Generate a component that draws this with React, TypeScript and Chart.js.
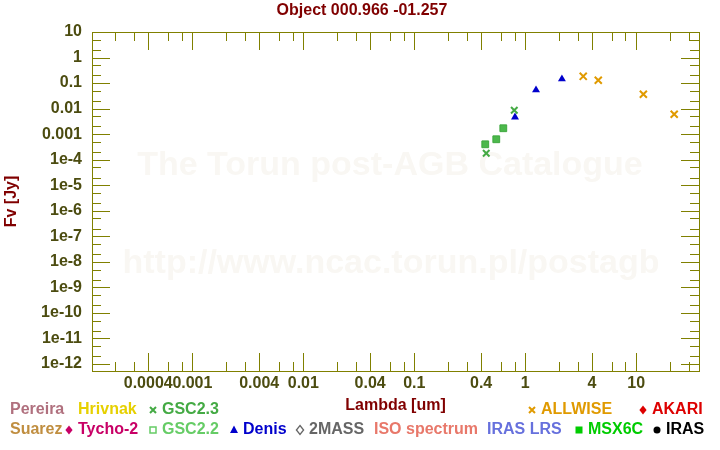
import React, { useEffect, useRef } from "react";
import { Chart, registerables } from "chart.js";

Chart.register(...registerables);

const FONT = '"Liberation Sans", Arial, Helvetica, sans-serif';

// ---- text ----
const chartTitle = "Object 000.966 -01.257";
const xAxisTitle = "Lambda [um]";
const yAxisTitle = "Fv [Jy]";
const watermarkLines = ["The Torun post-AGB Catalogue", "http://www.ncac.torun.pl/postagb"];

// ---- axes ----
const xRange = [1.245e-4, 36.8];
const yRange = [5.3e-13, 10];

const xLabelValues = [0.0004, 0.001, 0.004, 0.01, 0.04, 0.1, 0.4, 1, 4, 10];
const xLabelTexts = ["0.0004", "0.001", "0.004", "0.01", "0.04", "0.1", "0.4", "1", "4", "10"];
const xTickMantissas = [1, 2, 3, 4, 6, 8];
const xMajorMantissas = [1, 4];

const yLabelValues = [1e-12, 1e-11, 1e-10, 1e-9, 1e-8, 1e-7, 1e-6, 1e-5, 1e-4, 1e-3, 1e-2, 1e-1, 1, 10];
const yLabelTexts = ["1e-12", "1e-11", "1e-10", "1e-9", "1e-8", "1e-7", "1e-6", "1e-5", "1e-4", "0.001", "0.01", "0.1", "1", "10"];
const yTickMantissas = [1, 2, 5];
const yMajorMantissas = [1];

// ---- series (wavelength in um, flux in Jy) ----
const gsc23Lambda = [0.445, 0.796];
const gsc23Flux = [1.78e-4, 8.6e-3];
const gsc22Lambda = [0.436, 0.548, 0.634];
const gsc22Flux = [4.0e-4, 6.3e-4, 1.7e-3];
const denisLambda = [0.808, 1.25, 2.14];
const denisFlux = [4.6e-3, 0.0536, 0.1445];
const allwiseLambda = [3.33, 4.55, 11.6, 22.0];
const allwiseFlux = [0.184, 0.1285, 0.0364, 0.006];

// ---- legend ----
const legendNames = ["Pereira", "Hrivnak", "GSC2.3", "ALLWISE", "AKARI", "Suarez", "Tycho-2", "GSC2.2", "Denis", "2MASS", "ISO spectrum", "IRAS LRS", "MSX6C", "IRAS"];
const legendColors = ["#b0707e", "#e6d000", "#44aa44", "#e09a00", "#dd0000", "#c08e40", "#c80066", "#66cc66", "#0000cc", "#666666", "#e8786a", "#6670dd", "#00cc00", "#000000"];
const legendMarkers = ["none", "none", "cross", "cross", "diamond", "none", "diamond", "squareOpen", "triangle", "diamondOpen", "none", "none", "square", "circle"];
// layout slots: row, text start x
const legendSlots = [
  [0, 10], [0, 78], [0, 162], [0, 541], [0, 652],
  [1, 10], [1, 78], [1, 162], [1, 243], [1, 309], [1, 374], [1, 487], [1, 588], [1, 666],
];
const legendRowY = [410, 430];

function buildTicks(range: number[], mantissas: number[]) {
  const out: number[] = [];
  for (let e = -14; e <= 3; e++) {
    for (const m of mantissas) {
      const v = m * Math.pow(10, e);
      if (v >= range[0] * 0.9999 && v <= range[1] * 1.0001) out.push(v);
    }
  }
  return out;
}

function isMajor(v: number, majors: number[]) {
  const e = Math.floor(Math.log10(v) + 1e-9);
  const m = v / Math.pow(10, e);
  return majors.some((mm) => Math.abs(mm - m) < 1e-6);
}

function labelFor(v: number, values: number[], texts: string[]) {
  const i = values.findIndex((w) => Math.abs(Math.log10(w) - Math.log10(v)) < 1e-6);
  return i >= 0 ? texts[i] : "";
}

function drawMarker(ctx: CanvasRenderingContext2D, kind: string, x: number, y: number, color: string) {
  ctx.save();
  ctx.fillStyle = color;
  ctx.strokeStyle = color;
  ctx.lineWidth = 2;
  ctx.beginPath();
  if (kind === "cross") {
    const r = 3;
    ctx.moveTo(x - r, y - r); ctx.lineTo(x + r, y + r);
    ctx.moveTo(x + r, y - r); ctx.lineTo(x - r, y + r);
    ctx.stroke();
  } else if (kind === "diamond" || kind === "diamondOpen") {
    const r = 4.5;
    ctx.moveTo(x, y - r); ctx.lineTo(x + r * 0.8, y); ctx.lineTo(x, y + r); ctx.lineTo(x - r * 0.8, y); ctx.closePath();
    if (kind === "diamond") ctx.fill(); else { ctx.lineWidth = 1.3; ctx.stroke(); }
  } else if (kind === "squareOpen") {
    ctx.lineWidth = 1.5;
    ctx.strokeRect(x - 3, y - 3, 6, 6);
  } else if (kind === "square") {
    ctx.fillRect(x - 3.5, y - 3.5, 7, 7);
  } else if (kind === "triangle") {
    ctx.moveTo(x, y - 4.5); ctx.lineTo(x + 4, y + 3); ctx.lineTo(x - 4, y + 3); ctx.closePath(); ctx.fill();
  } else if (kind === "circle") {
    ctx.arc(x, y, 3.5, 0, Math.PI * 2); ctx.fill();
  }
  ctx.restore();
}

const decoPlugin = {
  id: "deco",
  beforeDatasetsDraw(chart: any) {
    const { ctx, chartArea: a, scales } = chart;
    const xs = scales.x, ys = scales.y;
    ctx.save();
    // watermark
    ctx.fillStyle = "#f9f7f3";
    ctx.font = `bold 34px ${FONT}`;
    ctx.textAlign = "center";
    ctx.textBaseline = "alphabetic";
    ctx.fillText(watermarkLines[0], 390, 175);
    ctx.fillText(watermarkLines[1], 391, 273);

    // ticks
    ctx.strokeStyle = "#808000";
    ctx.lineWidth = 1;
    ctx.beginPath();
    for (const t of xs.ticks) {
      const px = Math.round(xs.getPixelForValue(t.value)) + 0.5;
      const len = isMajor(t.value, xMajorMantissas) ? 18 : 9;
      ctx.moveTo(px, a.bottom); ctx.lineTo(px, a.bottom - len);
      ctx.moveTo(px, a.top); ctx.lineTo(px, a.top + len);
    }
    for (const t of ys.ticks) {
      const py = Math.round(ys.getPixelForValue(t.value)) + 0.5;
      const len = isMajor(t.value, yMajorMantissas) ? 18 : 9;
      ctx.moveTo(a.left, py); ctx.lineTo(a.left + len, py);
      ctx.moveTo(a.right, py); ctx.lineTo(a.right - len, py);
    }
    ctx.stroke();
    // frame
    ctx.strokeRect(Math.round(a.left) + 0.5, Math.round(a.top) + 0.5, Math.round(a.right - a.left), Math.round(a.bottom - a.top));
    ctx.restore();
  },
  afterDraw(chart: any) {
    const { ctx } = chart;
    ctx.save();
    // title
    ctx.fillStyle = "#800000";
    ctx.font = `bold 16px ${FONT}`;
    ctx.textAlign = "center";
    ctx.textBaseline = "middle";
    ctx.fillText(chartTitle, 362, 11);
    // legend
    ctx.textAlign = "left";
    ctx.font = `bold 16px ${FONT}`;
    legendNames.forEach((name, i) => {
      const [row, tx] = legendSlots[i];
      const y = legendRowY[row];
      const color = legendColors[i];
      if (legendMarkers[i] !== "none") drawMarker(ctx, legendMarkers[i], tx - 9, y, color);
      ctx.fillStyle = color;
      ctx.fillText(name, tx, y);
    });
    ctx.restore();
  },
};

export default function App() {
  const ref = useRef<HTMLCanvasElement | null>(null);
  useEffect(() => {
    if (!ref.current) return;
    Chart.defaults.font.family = FONT;
    const pts = (xs: number[], ys: number[]) => xs.map((x, i) => ({ x, y: ys[i] }));
    const chart = new Chart(ref.current, {
      type: "scatter",
      data: {
        datasets: [
          { label: "GSC2.2", data: pts(gsc22Lambda, gsc22Flux), pointStyle: "rect", pointRadius: 4.8, pointBackgroundColor: "#4cb84c", pointBorderColor: "#3fa83f", pointBorderWidth: 1 },
          { label: "GSC2.3", data: pts(gsc23Lambda, gsc23Flux), pointStyle: "crossRot", pointRadius: 4.6, pointBorderColor: "#44aa44", pointBackgroundColor: "#44aa44", pointBorderWidth: 2 },
          { label: "Denis", data: pts(denisLambda, denisFlux), pointStyle: "triangle", pointRadius: 4.6, pointBackgroundColor: "#0000cc", pointBorderColor: "#0000cc", pointBorderWidth: 0 },
          { label: "ALLWISE", data: pts(allwiseLambda, allwiseFlux), pointStyle: "crossRot", pointRadius: 5, pointBorderColor: "#e09a00", pointBackgroundColor: "#e09a00", pointBorderWidth: 2 },
        ] as any,
      },
      options: {
        animation: false,
        responsive: false,
        maintainAspectRatio: false,
        layout: { padding: { left: 0, top: 32, right: 21, bottom: 0 } },
        plugins: { legend: { display: false }, title: { display: false }, tooltip: { enabled: false } },
        scales: {
          x: {
            type: "logarithmic",
            min: xRange[0],
            max: xRange[1],
            bounds: "data",
            grid: { display: false },
            border: { display: false },
            afterBuildTicks: (s: any) => { s.ticks = buildTicks(xRange, xTickMantissas).map((v) => ({ value: v })); },
            afterFit: (s: any) => { s.height = 79; },
            ticks: {
              autoSkip: false, maxRotation: 0, minRotation: 0, padding: -5,
              color: "#4c4c10", font: { size: 16, weight: "bold" },
              callback: (v: any) => labelFor(Number(v), xLabelValues, xLabelTexts),
            },
            title: { display: true, text: xAxisTitle, color: "#800000", font: { size: 16, weight: "bold" }, padding: { top: 0, bottom: 35 } },
          },
          y: {
            type: "logarithmic",
            min: yRange[0],
            max: yRange[1],
            bounds: "data",
            grid: { display: false },
            border: { display: false },
            afterBuildTicks: (s: any) => { s.ticks = buildTicks(yRange, yTickMantissas).map((v) => ({ value: v })); },
            afterFit: (s: any) => { s.width = 92; },
            ticks: {
              autoSkip: false, padding: 2,
              color: "#4c4c10", font: { size: 16, weight: "bold" },
              callback: (v: any) => labelFor(Number(v), yLabelValues, yLabelTexts),
            },
            title: { display: true, text: yAxisTitle, color: "#800000", font: { size: 16, weight: "bold" }, padding: { top: 2, bottom: 0 } },
          },
        },
      } as any,
      plugins: [decoPlugin],
    });
    return () => chart.destroy();
  }, []);
  return (
    <div style={{ position: "fixed", left: 0, top: 0, width: 720, height: 450, background: "#fff" }}>
      <canvas ref={ref} width={720} height={450} style={{ width: 720, height: 450, display: "block" }} />
    </div>
  );
}
